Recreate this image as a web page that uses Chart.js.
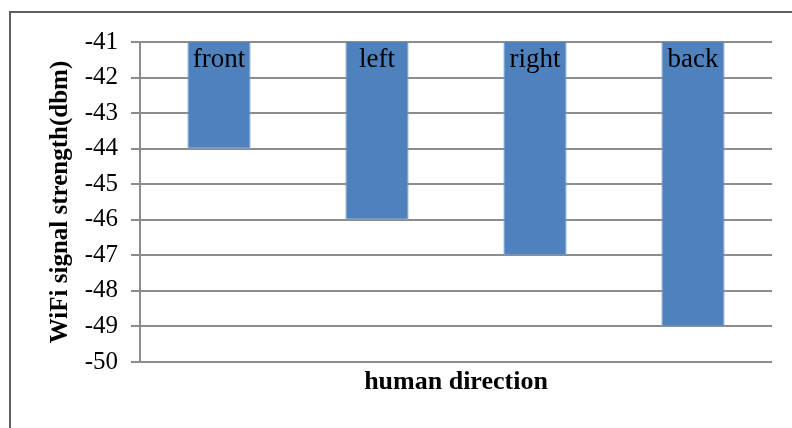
<!DOCTYPE html>
<html>
<head>
<meta charset="utf-8">
<script src="https://cdn.jsdelivr.net/npm/chart.js@4/dist/chart.umd.min.js"></script>
<style>
  body { margin: 0; background: #fff; }
  .frame {
    position: absolute; left: 9px; top: 11px; width: 900px; height: 500px;
    border-top: 2px solid #5f5f5f; border-left: 2px solid #5f5f5f;
  }
  .wrap { position: absolute; left: 0; top: 0; width: 792px; height: 428px; }
</style>
</head>
<body>
<div class="frame"></div>
<div class="wrap"><canvas id="wifiChart" width="792" height="428"></canvas></div>
<script>
const directions = ['front', 'left', 'right', 'back'];
const signalDbm = [-44, -46, -47, -49];
const yMin = -50;
const yMax = -41;

// direction names sit inside the plot, just under the top gridline
const topLabels = {
  id: 'topLabels',
  afterDatasetsDraw(chart) {
    const { ctx, chartArea, scales } = chart;
    ctx.save();
    ctx.font = '27px "Liberation Serif", "Times New Roman", serif';
    ctx.fillStyle = '#000';
    ctx.textAlign = 'center';
    ctx.textBaseline = 'alphabetic';
    directions.forEach((name, i) => {
      ctx.fillText(name, scales.x.getPixelForValue(i), chartArea.top + 25);
    });
    ctx.restore();
  }
};

const ctx = document.getElementById('wifiChart').getContext('2d');
new Chart(ctx, {
  type: 'bar',
  data: {
    labels: directions,
    datasets: [{
      data: signalDbm,
      backgroundColor: '#4f81bd',
      borderColor: '#7fa3cf',
      borderWidth: 1,
      categoryPercentage: 1,
      barPercentage: 0.4
    }]
  },
  options: {
    responsive: false,
    animation: false,
    layout: { padding: { left: 46, right: 20, top: 42, bottom: 30 } },
    plugins: {
      legend: { display: false },
      tooltip: { enabled: false }
    },
    scales: {
      x: {
        grid: { display: false },
        border: { display: false },
        ticks: { display: false },
        afterFit: scale => { scale.height = 36; },
        title: {
          display: true,
          text: 'human direction',
          color: '#000',
          font: { family: '"Liberation Serif", "Times New Roman", serif', size: 26, weight: 'bold' },
          padding: { top: 5, bottom: 0 }
        }
      },
      y: {
        min: yMin,
        max: yMax,
        afterFit: scale => { scale.width = 94; },
        ticks: {
          stepSize: 1,
          padding: 13,
          color: '#000',
          font: { family: '"Liberation Serif", "Times New Roman", serif', size: 25 }
        },
        grid: { color: '#8c8c8c', lineWidth: 2, tickLength: 9 },
        border: { color: '#8c8c8c', width: 2 },
        title: {
          display: true,
          text: 'WiFi signal strength(dbm)',
          color: '#000',
          font: { family: '"Liberation Serif", "Times New Roman", serif', size: 25, weight: 'bold' },
          padding: { top: 0, bottom: 8 }
        }
      }
    }
  },
  plugins: [topLabels]
});
</script>
</body>
</html>
